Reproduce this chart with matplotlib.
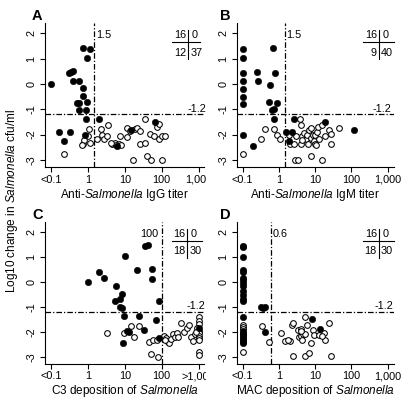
import numpy as np
import matplotlib
matplotlib.use("Agg")
import matplotlib.pyplot as plt
from matplotlib.transforms import Bbox, TransformedBbox

plt.rcParams['font.family'] = ['Liberation Sans', 'DejaVu Sans']
plt.rcParams['mathtext.fontset'] = 'custom'
plt.rcParams['mathtext.rm'] = 'Liberation Sans'
plt.rcParams['mathtext.it'] = 'Liberation Sans:italic'
plt.rcParams['axes.unicode_minus'] = False

# ---------------- data (x: log10 of titer / deposition, y: log10 change in cfu/ml) -------------
# Panel A: anti-Salmonella IgG titer
a_fx = [-1.0, -0.14, 0.06, -0.03, -0.52, -0.46, -0.41, -0.41, -0.25, -0.12, -0.12, -0.30, -0.25, -0.03, -0.25, -0.06,
        -0.05, 0.30, -0.79, -0.48, -0.64, -0.07, 1.18, 1.82, 0.79]
a_fy = [0.0, 1.43, 1.40, 1.03, 0.45, 0.49, 0.50, 0.13, 0.13, -0.17, -0.47, -0.76, -0.76, -0.70, -1.03, -1.03,
        -1.38, -1.38, -1.89, -1.89, -2.24, -2.0, -1.82, -1.51, -2.47]
a_ox = [-0.64, 0.02, 0.0, -0.14, -0.11, 0.05, -0.16,
        0.25, 0.36, 0.39, 0.45, 0.55, 0.52, 0.66, 0.73, 0.85, 0.86, 0.75, 1.05, 1.07, 1.27, 1.34, 1.41, 1.55,
        1.68, 1.86, 1.93, 1.79, 1.94, 2.0, 2.09, 1.41, 1.56, 1.21, 1.59, 1.71, 2.02, 0.89, 0.62, 1.14]
a_oy = [-2.77, -1.76, -2.05, -2.36, -2.23, -2.32, -2.42,
        -2.16, -1.78, -2.03, -2.19, -1.62, -2.05, -2.36, -2.32, -2.36, -2.05, -2.43, -1.73, -2.09, -1.76, -1.73,
        -1.85, -1.38, -1.96, -1.69, -1.59, -2.05, -2.19, -2.05, -2.05, -2.36, -2.32, -3.0, -2.84, -3.0, -3.0,
        -2.4, -2.32, -1.86]

# Panel B: anti-Salmonella IgM titer
b_fx = [-1.0, -1.0, -1.0, -1.0, -1.0, -1.0, -1.0, -0.61, -0.58, -0.17, -0.10, -0.23, -0.28, -0.05, -0.18, -0.14,
        -1.0, -0.72, -0.12, 0.20, 0.35, 0.43, 0.27, 1.27, 2.08]
b_fy = [1.37, 1.01, 0.42, 0.13, -0.20, -0.50, -0.79, 0.49, 0.13, 1.43, 0.45, -0.04, -0.70, -0.76, -1.03, -1.0,
        -2.0, -2.47, -1.38, -1.89, -1.89, -1.38, -2.27, -1.51, -1.82]
b_ox = [-1.0, -0.37, -0.48, -0.12, -0.05, 0.02,
        0.27, 0.31, 0.43, 0.47, 0.58, 0.62, 0.61, 0.65, 0.70, 0.74, 0.79, 0.81, 0.83, 0.88, 0.90, 0.94, 0.98,
        1.01, 1.01, 1.06, 1.09, 1.03, 1.12, 1.19, 1.27, 1.39, 1.44, 1.43, 1.67, 0.45, 0.52, 0.90, 1.18, 0.65]
b_oy = [-2.77, -1.76, -2.19, -1.76, -2.03, -2.19,
        -2.03, -2.36, -2.36, -2.05, -1.38, -1.62, -2.36, -2.05, -1.92, -2.19, -2.03, -2.36, -1.82, -2.14, -1.73,
        -2.0, -2.27, -2.36, -2.03, -1.89, -1.69, -2.43, -2.16, -1.62, -2.05, -1.82, -1.96, -2.36, -1.73, -3.0,
        -3.0, -2.84, -3.0, -2.23]

# Panel C: C3 deposition of Salmonella
c_fx = [0.0, 0.30, 0.43, 1.02, 1.32, 1.56, 1.63, 1.73, 1.75, 0.75, 0.73, 0.88, 0.93, 0.86, 0.93, 1.93,
        0.97, 1.38, 1.85, 1.07, 1.12, 1.52, 0.94, 1.93, 3.0]
c_fy = [0.02, 0.42, 0.15, 1.05, 0.49, 1.45, 1.48, 0.53, 0.14, -0.17, -0.75, -0.69, -0.48, -1.02, -1.03, -0.75,
        -1.37, -1.37, -1.51, -1.95, -1.99, -1.92, -2.47, -2.26, -1.83]
c_ox = [0.53, 0.97, 1.18, 1.25, 1.39, 1.66, 1.70, 1.77, 1.88, 1.91,
        2.05, 2.12, 2.16, 2.21, 2.25, 2.30, 2.36, 2.41, 2.52, 2.61, 2.68, 2.73, 2.79, 2.85, 2.90, 2.45,
        3.0, 3.0, 3.0, 3.0, 3.0, 3.0, 3.0, 3.0, 3.0, 3.0, 2.95, 2.93, 2.10]
c_oy = [-2.05, -2.03, -1.78, -2.19, -1.75, -2.40, -2.88, -2.33, -2.33, -3.01,
        -2.16, -2.26, -2.40, -2.44, -2.30, -2.08, -2.19, -2.05, -1.64, -1.99, -1.85, -1.74, -2.19, -2.36, -2.10,
        -2.20, -1.42, -1.55, -1.68, -1.95, -2.05, -2.15, -2.25, -2.35, -2.80, -2.95, -1.85, -2.0, -2.33]

# Panel D: MAC deposition of Salmonella
d_fx = [-1.0, -1.0, -1.0, -1.0, -1.0, -1.0, -1.0, -1.0, -1.0, -1.0, -1.0, -1.0, -1.0, -0.50, -0.43, -0.37,
        -1.0, -1.0, -1.0, -1.0, -1.0, -1.0, -0.37, 0.92, 1.13]
d_fy = [1.45, 1.40, 1.02, 0.49, 0.42, 0.15, 0.08, -0.03, -0.16, -0.36, -0.52, -0.68, -0.75, -1.02, -1.03, -1.02,
        -1.42, -1.95, -2.10, -2.25, -2.38, -2.47, -2.0, -1.50, -1.87]
d_ox = [-1.0, -1.0, -1.0, -1.0, -1.0, -1.0, -1.0, -1.0, -1.0, -0.45, -0.27,
        0.05, 0.18, 0.30, 0.35, 0.39, 0.26, 0.39, 0.53, 0.55, 0.60, 0.61, 0.64, 0.67, 0.72, 0.73, 0.78, 0.71,
        0.83, 0.90, 0.94, 0.96, 1.10, 1.24, 1.27, 1.38, 1.45, 0.62, 1.19]
d_oy = [-1.72, -1.80, -1.88, -2.03, -2.10, -2.17, -2.30, -2.42, -2.80, -1.75, -2.40,
        -2.04, -2.36, -2.36, -1.73, -1.64, -2.33, -2.98, -1.91, -2.20, -1.87, -2.17, -2.34, -2.07, -1.42, -2.07,
        -1.73, -2.98, -2.85, -2.44, -1.93, -2.13, -2.13, -2.04, -2.34, -1.66, -2.98, -1.98, -2.17]

x_ticks = [-1, 0, 1, 2, 3]
x_labels_titer = ['<0.1', '1', '10', '100', '1,000']
x_labels_c3 = ['<0.1', '1', '10', '100', '>1,000']
y_ticks = [-3, -2, -1, 0, 1, 2]
y_labels = ['-3', '-2', '-1', '0', '1', '2']
y_cut = -1.2
tables = {'A': (16, 0, 12, 37), 'B': (16, 0, 9, 40), 'C': (16, 0, 18, 30), 'D': (16, 0, 18, 30)}
thresholds = {'A': 1.5, 'B': 1.5, 'C': 100, 'D': 0.6}

# ---------------- figure ----------------
W, H = 412, 407
fig = plt.figure(figsize=(W / 100, H / 100), dpi=100)

def fx(px):
    return px / W

def fy(py):
    return 1 - py / H

left_clip = TransformedBbox(Bbox([[0, 0], [206 / W, 1]]), fig.transFigure)

DASH = (0, (4.5, 1.6, 1.0, 1.6))
TS = 7.8

specs = [
    # letter, rect(px: x0, x1, ytop, ybottom), data, xlabels, xlabel, thr label side, -1.2 x pos, table xs
    ('A', (45.0, 204.5, 22.7, 167.0), (a_fx, a_fy, a_ox, a_oy), x_labels_titer,
     'Anti-$\\mathit{Salmonella}$ IgG titer', 'right', 3.21, (2.27, 2.72, 3.04), True),
    ('B', (236.7, 393.5, 22.7, 167.0), (b_fx, b_fy, b_ox, b_oy), x_labels_titer,
     'Anti-$\\mathit{Salmonella}$ IgM titer', 'right', 3.10, (2.31, 2.75, 3.18), False),
    ('C', (45.0, 204.5, 221.9, 363.6), (c_fx, c_fy, c_ox, c_oy), x_labels_c3,
     'C3 deposition of $\\mathit{Salmonella}$', 'left', 3.18, (2.28, 2.69, 3.10), True),
    ('D', (236.7, 393.5, 221.9, 363.6), (d_fx, d_fy, d_ox, d_oy), x_labels_titer,
     'MAC deposition of $\\mathit{Salmonella}$', 'right', 3.16, (2.32, 2.75, 3.18), False),
]

for letter, (x0, x1, yt, yb), (xf, yf, xo, yo), xl, xlab, side, cutx, (tx0, tv, tx1), clip in specs:
    ax = fig.add_axes([fx(x0), fy(yb), (x1 - x0) / W, (yb - yt) / H])
    ax.set_xlim(-1.16, 3.16)
    ax.set_ylim(-3.28, 2.42)
    ax.patch.set_alpha(0)
    for s in ('top', 'right'):
        ax.spines[s].set_visible(False)
    for s in ('left', 'bottom'):
        ax.spines[s].set_linewidth(0.8)
    ax.set_xticks(x_ticks)
    ax.set_xticklabels(xl, fontsize=TS)
    ax.set_yticks(y_ticks)
    ax.set_yticklabels(y_labels, fontsize=TS, rotation=90, va='center')
    ax.tick_params(axis='both', length=3.6, width=0.8, colors='black')
    ax.tick_params(axis='x', pad=2)
    ax.tick_params(axis='y', pad=2.5)
    ax.set_xlabel(xlab, fontsize=8.5, labelpad=1.5)

    thr = np.log10(thresholds[letter])
    ax.axvline(thr, color='black', lw=0.9, ls=DASH, zorder=1)
    ax.axhline(y_cut, color='black', lw=0.9, ls=DASH, zorder=1)

    thr_txt = f"{thresholds[letter]:g}"
    if side == 'right':
        ax.text(thr + 0.04, 1.95, thr_txt, ha='left', va='center', fontsize=TS)
    else:
        ax.text(thr - 0.1, 1.95, thr_txt, ha='right', va='center', fontsize=TS)
    t12 = ax.text(cutx, y_cut + 0.03, f"{y_cut:g}", ha='right', va='bottom', fontsize=TS, clip_on=False)

    # 2x2 count table
    n11, n12, n21, n22 = tables[letter]
    ax.plot([tx0, tx1], [1.64, 1.64], color='black', lw=0.8, clip_on=False)
    ax.plot([tv, tv], [2.12, 0.98], color='black', lw=0.8, clip_on=False)
    ax.text(tv - 0.05, 1.93, str(n11), ha='right', va='center', fontsize=TS)
    ax.text(tv + 0.1, 1.93, str(n12), ha='left', va='center', fontsize=TS)
    ax.text(tv - 0.05, 1.24, str(n21), ha='right', va='center', fontsize=TS)
    ax.text(tv + 0.06, 1.24, str(n22), ha='left', va='center', fontsize=TS)

    ax.plot(xo, yo, ls='none', marker='o', ms=4.1, mfc='white', mec='black', mew=0.75, zorder=3, clip_on=False)
    ax.plot(xf, yf, ls='none', marker='o', ms=4.6, mfc='black', mec='black', mew=0.4, zorder=4, clip_on=False)

    if clip:
        for lab in ax.get_xticklabels():
            lab.set_clip_box(left_clip)
            lab.set_clip_on(True)
        t12.set_clip_box(left_clip)
        t12.set_clip_on(True)

    fig.text(fx(x0 - 13 if letter in 'AC' else x0 - 17), fy(yt - 3), letter,
             fontsize=10.5, fontweight='bold', ha='left', va='baseline')

fig.text(fx(12), fy(201), 'Log10 change in $\\mathit{Salmonella}$ cfu/ml', rotation=90,
         ha='center', va='center', fontsize=8.5)

fig.savefig('out.png', dpi=100)
